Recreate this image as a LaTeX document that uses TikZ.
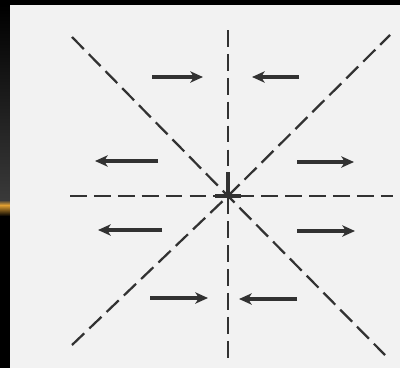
\documentclass[tikz,border=0pt]{standalone}
\usetikzlibrary{arrows.meta}
\definecolor{ink}{RGB}{50,50,50}
\definecolor{paper}{RGB}{242,242,242}
\definecolor{glow}{RGB}{225,160,50}
\begin{document}
\begin{tikzpicture}[x=0.025cm, y=-0.025cm, >={Stealth[length=9pt,width=8pt,inset=2.5pt]},
    axis/.style={ink, line width=1.6pt, dash pattern=on 12pt off 5pt},
    flow/.style={ink, line width=2.6pt, ->}]
    % Centre of the pattern
    \def\cx{228}
    \def\cy{196}
    \coordinate (O) at (\cx,\cy);

    % Slide background and the sheet of paper
    \fill[black] (0,0) rectangle (400,368);
    \shade[top color=black, bottom color=gray!45!black] (0,5) rectangle (10,200);
    \shade[top color=gray!45!black, bottom color=glow] (0,200) rectangle (10,205);
    \shade[top color=glow, bottom color=black] (0,205) rectangle (10,216);
    \fill[paper] (10,5) rectangle (400,368);
    \useasboundingbox (0,0) rectangle (400,368);

    % Dashed axes through the centre
    \draw[axis] (\cx,30) -- (O) -- (\cx,364);
    \draw[axis] (70,\cy) -- (O) -- (393,\cy);
    \draw[axis] (72,37) -- (O) -- (385,355);
    \draw[axis] (72,345) -- (O) -- (390,35);

    % Heavy mark at the centre
    \draw[ink, line width=3pt] (\cx,172) -- (O);
    \draw[ink, line width=3pt] (215,\cy) -- (241,\cy);

    % Top row - inward
    \draw[flow] (152,77) -- (203,77);
    \draw[flow] (299,77) -- (252,77);

    % Upper side row - outward
    \draw[flow] (158,161) -- (95,161);
    \draw[flow] (297,162) -- (354,162);

    % Lower side row - outward
    \draw[flow] (162,230) -- (98,230);
    \draw[flow] (297,231) -- (355,231);

    % Bottom row - inward
    \draw[flow] (150,298) -- (208,298);
    \draw[flow] (297,299) -- (239,299);
\end{tikzpicture}
\end{document}
